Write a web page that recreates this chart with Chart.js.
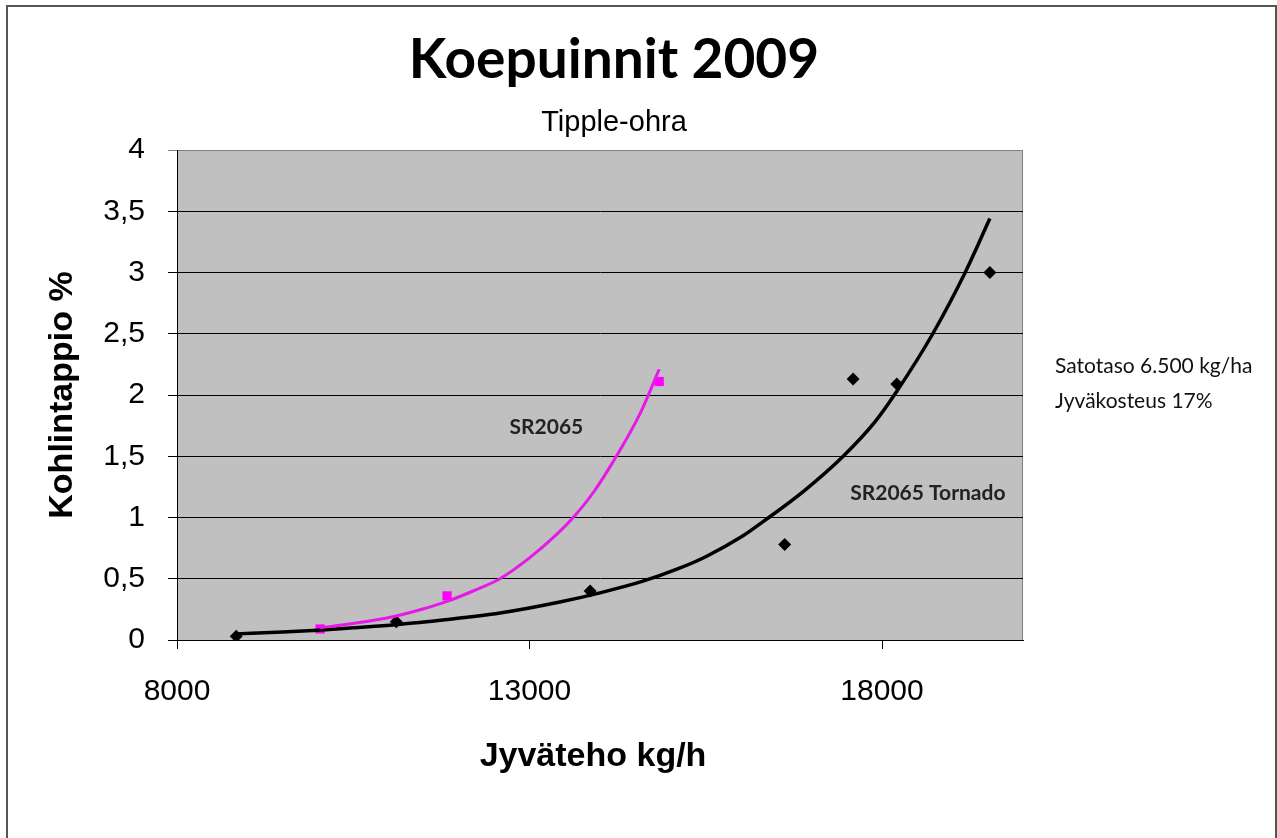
<!DOCTYPE html>
<html>
<head>
<meta charset="utf-8">
<script src="https://cdn.jsdelivr.net/npm/chart.js@4/dist/chart.umd.min.js"></script>
<style>
  html, body { margin: 0; padding: 0; background: #fff; }
  canvas { display: block; }
</style>
</head>
<body>
<canvas id="chart" width="1277" height="838"></canvas>
<script>
// mittaukset (luettu kuvasta)
const tornadoX = [8840, 11110, 13860, 16620, 17590, 18210, 19530];
const tornadoY = [0.03, 0.15, 0.40, 0.78, 2.13, 2.09, 3.00];
const sr2065X = [10030, 11830, 14840];
const sr2065Y = [0.09, 0.36, 2.11];

// trendiviivat (luettu kuvasta)
const tornadoTrendX = [8840, 9500, 10000, 10500, 11100, 11800, 12580, 13430, 14000, 14610, 15100, 15500, 16000, 16370, 16900, 17450, 17900, 18210, 18720, 19180, 19530];
const tornadoTrendY = [0.05, 0.065, 0.08, 0.10, 0.125, 0.165, 0.22, 0.31, 0.385, 0.48, 0.58, 0.68, 0.84, 0.99, 1.22, 1.50, 1.78, 2.03, 2.50, 3.00, 3.44];
const sr2065TrendX = [10030, 10500, 11060, 11500, 11830, 12200, 12580, 13000, 13400, 13620, 13900, 14180, 14570, 14840];
const sr2065TrendY = [0.10, 0.135, 0.19, 0.255, 0.315, 0.40, 0.50, 0.67, 0.87, 1.00, 1.20, 1.45, 1.85, 2.21];

const xTicks = [8000, 13000, 18000];
const yMin = 0, yMax = 4, yStep = 0.5;

const title = "Koepuinnit 2009";
const subtitle = "Tipple-ohra";
const xTitle = "Jyväteho kg/h";
const yTitle = "Kohlintappio %";
const seriesLabels = ["SR2065", "SR2065 Tornado"];
const notes = ["Satotaso 6.500 kg/ha", "Jyväkosteus 17%"];

const pts = (xs, ys) => xs.map((x, i) => ({ x, y: ys[i] }));

const arial = '"Liberation Sans", Arial, sans-serif';
const calibri = 'Lato, "Open Sans", sans-serif';

const decor = {
  id: "decor",
  beforeDraw(chart) {
    const { ctx, chartArea: a } = chart;
    ctx.save();
    ctx.fillStyle = "#fff";
    ctx.fillRect(0, 0, chart.width, chart.height);
    // ulkoreunus
    ctx.strokeStyle = "#555";
    ctx.lineWidth = 2;
    ctx.beginPath();
    ctx.moveTo(7, chart.height);
    ctx.lineTo(7, 6);
    ctx.lineTo(1276, 6);
    ctx.lineTo(1276, chart.height);
    ctx.stroke();
    // piirtoalue
    ctx.fillStyle = "#c0c0c0";
    ctx.fillRect(a.left, a.top, a.right - a.left, a.bottom - a.top);
    ctx.strokeStyle = "#808080";
    ctx.lineWidth = 1;
    ctx.beginPath();
    ctx.moveTo(a.left, a.top + 0.5);
    ctx.lineTo(a.right - 0.5, a.top + 0.5);
    ctx.lineTo(a.right - 0.5, a.bottom);
    ctx.stroke();
    ctx.restore();
  },
  afterDraw(chart) {
    const { ctx, scales } = chart;
    ctx.save();
    ctx.fillStyle = "#000";
    ctx.textAlign = "center";
    ctx.textBaseline = "alphabetic";
    ctx.font = 'bold 55px ' + calibri;
    ctx.fillText(title, 614, 78);
    ctx.font = '29px ' + arial;
    ctx.fillText(subtitle, 614, 131);

    ctx.font = 'bold 34px ' + arial;
    ctx.fillText(xTitle, 593, 766);
    ctx.save();
    ctx.translate(72, 395);
    ctx.rotate(-Math.PI / 2);
    ctx.fillText(yTitle, 0, 0);
    ctx.restore();

    // sarjojen nimet
    ctx.font = 'bold 21px ' + calibri;
    ctx.fillStyle = "#222";
    ctx.fillText(seriesLabels[0], scales.x.getPixelForValue(13240), scales.y.getPixelForValue(1.68));
    ctx.fillText(seriesLabels[1], scales.x.getPixelForValue(18650), scales.y.getPixelForValue(1.14));

    ctx.font = '21px ' + calibri;
    ctx.textAlign = "left";
    ctx.fillStyle = "#111";
    ctx.fillText(notes[0], 1055, 373);
    ctx.fillText(notes[1], 1055, 408);
    ctx.restore();
  }
};

new Chart(document.getElementById("chart"), {
  type: "scatter",
  data: {
    datasets: [
      {
        label: "SR2065 trendi",
        data: pts(sr2065TrendX, sr2065TrendY),
        showLine: true,
        borderColor: "#e619e6",
        borderWidth: 3,
        pointRadius: 0,
        cubicInterpolationMode: "monotone"
      },
      {
        label: "SR2065 Tornado trendi",
        data: pts(tornadoTrendX, tornadoTrendY),
        showLine: true,
        borderColor: "#000",
        borderWidth: 3.5,
        pointRadius: 0,
        cubicInterpolationMode: "monotone"
      },
      {
        label: "SR2065",
        data: pts(sr2065X, sr2065Y),
        pointStyle: "rect",
        pointRadius: 6.5,
        backgroundColor: "#ff00ff",
        borderColor: "#ff00ff",
        borderWidth: 0
      },
      {
        label: "SR2065 Tornado",
        data: pts(tornadoX, tornadoY),
        pointStyle: "rectRot",
        pointRadius: 6.5,
        backgroundColor: "#000",
        borderColor: "#000",
        borderWidth: 0
      }
    ]
  },
  options: {
    responsive: false,
    animation: false,
    layout: { padding: { left: 0, top: 150, right: 254, bottom: 0 } },
    plugins: { legend: { display: false }, tooltip: { enabled: false } },
    scales: {
      x: {
        type: "linear",
        min: 8000,
        max: 20000,
        afterBuildTicks: s => { s.ticks = xTicks.map(v => ({ value: v })); },
        afterFit: s => { s.height = 198; },
        grid: { drawOnChartArea: false, drawTicks: true, tickLength: 9, color: "#000" },
        border: { color: "#000", width: 1 },
        ticks: {
          color: "#000",
          padding: 25,
          font: { family: arial, size: 30 },
          maxRotation: 0,
          callback: v => String(v)
        }
      },
      y: {
        min: yMin,
        max: yMax,
        afterFit: s => { s.width = 177; },
        grid: {
          color: c => (c.tick && c.tick.value === yMax ? "#808080" : "#000"),
          drawTicks: true,
          tickLength: 9
        },
        border: { color: "#000", width: 1 },
        ticks: {
          stepSize: yStep,
          color: "#000",
          padding: 23,
          font: { family: arial, size: 30 },
          callback: v => String(v).replace(".", ",")
        }
      }
    }
  },
  plugins: [decor]
});
</script>
</body>
</html>
